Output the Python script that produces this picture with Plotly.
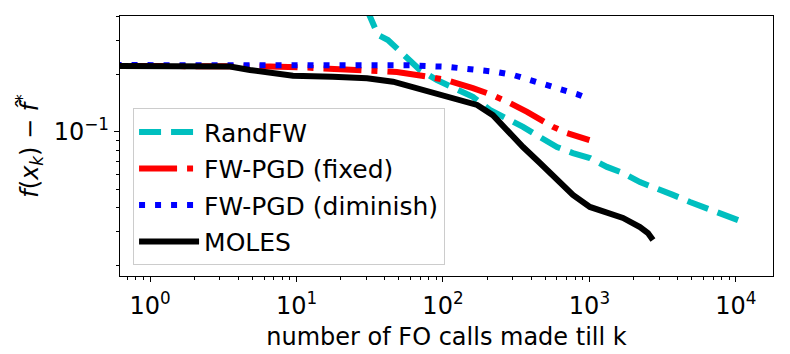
import plotly.graph_objects as go

# ---- data (x: number of FO calls, y: f(x_k) - f^*) ----
# runs start at 0 calls; that point lies off the left edge of the log axis (stand-in 0.1)
randfw_x = [20, 30.3, 36, 42.1, 48.5, 57.7, 69.7, 91, 117, 160, 209, 273, 352, 459, 600,
            771, 1007, 1316, 1694, 2212, 2890, 3715, 4853, 6341, 8150, 11170]
randfw_y = [0.90, 0.431, 0.320, 0.301, 0.273, 0.237, 0.210, 0.186, 0.171, 0.152, 0.130,
            0.118, 0.106, 0.0938, 0.0832, 0.0774, 0.0729, 0.0655, 0.0609, 0.0546, 0.0508,
            0.0468, 0.0430, 0.0400, 0.0367, 0.0338]

fixed_x = [0.1, 1, 2, 3, 4, 6.6, 10.6, 16.9, 30.7, 48.5, 81.5, 106, 160, 219, 287, 375,
           565, 700, 1000]
fixed_y = [0.222, 0.222, 0.222, 0.222, 0.221, 0.219, 0.217, 0.214, 0.210, 0.205, 0.193,
           0.186, 0.169, 0.155, 0.141, 0.127, 0.106, 0.0985, 0.0905]

dimin_x = [0.1, 1, 3, 10, 30, 60, 108, 178, 233, 300, 381, 498, 630, 822, 1000]
dimin_y = [0.223, 0.223, 0.223, 0.223, 0.223, 0.222, 0.218, 0.210, 0.205, 0.198, 0.188,
           0.179, 0.167, 0.157, 0.148]

moles_x = [0.1, 1, 2, 3, 3.52, 4.81, 6.91, 9.46, 17.7, 30.3, 45.6, 56.8, 77.8, 117, 171,
           219, 273, 352, 459, 600, 771, 1007, 1316, 1694, 2212, 2508, 2713]
moles_y = [0.222, 0.222, 0.222, 0.222, 0.219, 0.210, 0.202, 0.196, 0.1936, 0.190, 0.1824,
           0.174, 0.162, 0.149, 0.138, 0.122, 0.102, 0.0832, 0.0687, 0.0560, 0.0468,
           0.0405, 0.0381, 0.0355, 0.0318, 0.0296, 0.0272]

labels = ["RandFW", "FW-PGD (fixed)", "FW-PGD (diminish)", "MOLES"]

x_major = [1, 10, 100, 1000, 10000]
x_major_text = ["10<sup>0</sup>", "10<sup>1</sup>", "10<sup>2</sup>", "10<sup>3</sup>", "10<sup>4</sup>"]
x_minor = [m * 10 ** e for e in range(-1, 5) for m in range(2, 10)]
y_major = [0.1]
y_major_text = ["10<sup>\u22121</sup>"]
y_minor = [m * 10 ** e for e in (-2, -1) for m in range(2, 10)]

FONT = "DejaVu Sans"
LW = 6

fig = go.Figure()
series = [
    (randfw_x, randfw_y, labels[0], "#00BFBF", "22px,10px"),
    (fixed_x, fixed_y, labels[1], "#FF0000", "38px,10px,6px,10px"),
    (dimin_x, dimin_y, labels[2], "#0000FF", "6px,10px"),
    (moles_x, moles_y, labels[3], "#000000", "solid"),
]
for i, (xs, ys, name, col, dash) in enumerate(series):
    fig.add_trace(go.Scatter(x=xs, y=ys, name=name, mode="lines",
                             legendgroup=f"g{i}", hoverinfo="skip",
                             line=dict(color=col, width=LW, dash=dash)))

axis_common = dict(
    type="log", showgrid=False, zeroline=False, automargin=False,
    showline=True, mirror=True, linecolor="black", linewidth=1.3,
    ticks="outside", ticklen=5, tickwidth=1.2, tickcolor="black",
    tickfont=dict(family=FONT, size=24, color="black"),
)

fig.update_layout(
    width=790, height=354,
    margin=dict(l=120, r=17, t=16, b=78),
    paper_bgcolor="white", plot_bgcolor="white",
    font=dict(family=FONT, size=24, color="black"),
    xaxis=dict(
        axis_common, range=[-0.205, 4.253],
        tickmode="array", tickvals=x_major, ticktext=x_major_text,
        ticklabelstandoff=3,
        minor=dict(tickmode="array", tickvals=x_minor, ticks="outside", ticklen=3,
                   tickwidth=1, tickcolor="black", showgrid=False),
        title=dict(text="number of FO calls made till k", font=dict(family=FONT, size=24),
                   standoff=9),
    ),
    yaxis=dict(
        axis_common, range=[-1.753, -0.396],
        tickmode="array", tickvals=y_major, ticktext=y_major_text,
        minor=dict(tickmode="array", tickvals=y_minor, ticks="outside", ticklen=3,
                   tickwidth=1, tickcolor="black", showgrid=False),
        title=dict(text="<i>f</i>(<i>x</i><sub><i>k</i></sub>) \u2212 <i>f\u0302</i><sup>*</sup>",
                   font=dict(family=FONT, size=24), standoff=8),
    ),
    legend=dict(
        x=0.02, y=0.645, xanchor="left", yanchor="top",
        bgcolor="rgba(255,255,255,0.8)", bordercolor="#cccccc", borderwidth=1,
        font=dict(family=FONT, size=25, color="black"),
        traceorder="grouped", tracegroupgap=1, itemwidth=60,
    ),
    showlegend=True,
)

fig.write_html("out.html", config={"displayModeBar": False},
               post_script="document.body.style.margin='0';")
